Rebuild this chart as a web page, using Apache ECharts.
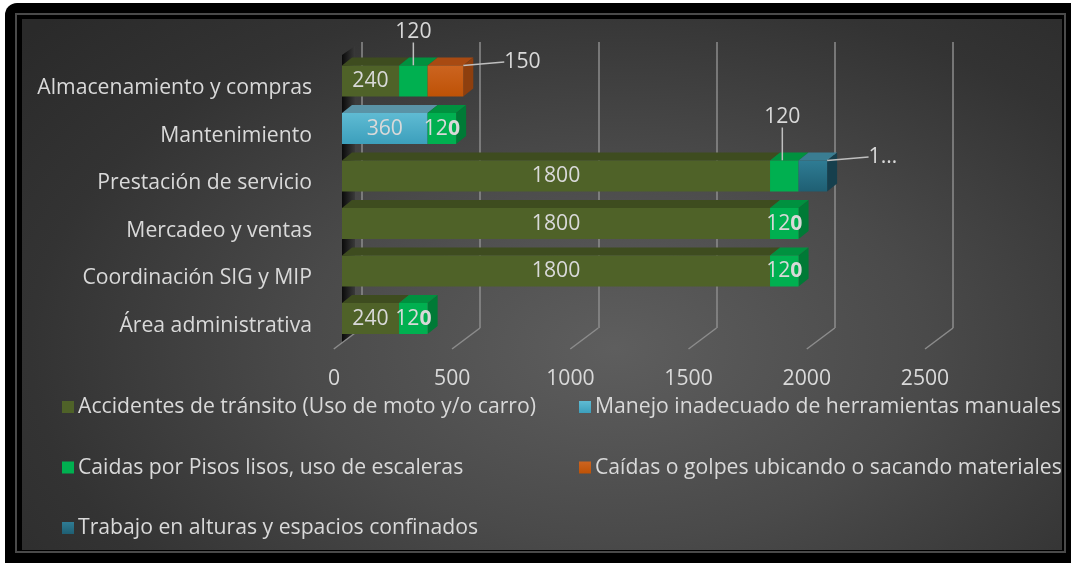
<!DOCTYPE html>
<html>
<head>
<meta charset="utf-8">
<script src="https://cdn.jsdelivr.net/npm/echarts@6/dist/echarts.min.js"></script>
<style>
html,body{margin:0;padding:0;background:#fff;width:1071px;height:563px;overflow:hidden;}
#outer{position:absolute;left:5px;top:3px;width:1066px;height:560px;background:#000;border-radius:12px 0 0 0;}
#line{position:absolute;left:15px;top:13px;width:1051px;height:540px;box-sizing:border-box;border:2px solid #4a4a4a;}
#bg{position:absolute;left:22px;top:19px;width:1040px;height:531px;
 background:radial-gradient(ellipse 75% 90% at 57% 62%, #5e5e5e 0%, #4a4a4a 40%, #333 75%, #2a2a2a 100%);}
#chart{position:absolute;left:0;top:0;width:1071px;height:563px;}
</style>
</head>
<body>
<div id="outer"></div><div id="line"></div><div id="bg"></div>
<div id="chart"></div>
<script>
const categories = ['Almacenamiento y compras','Mantenimiento','Prestación de servicio','Mercadeo y ventas','Coordinación SIG y MIP','Área administrativa'];
const seriesNames = ['Accidentes de tránsito (Uso de moto y/o carro)','Manejo inadecuado de herramientas manuales','Caidas por Pisos lisos, uso de escaleras','Caídas o golpes ubicando o sacando materiales','Trabajo en alturas y espacios confinados'];
const accidentes = [240, null, 1800, 1800, 1800, 240];
const manejo     = [null, 360, null, null, null, null];
const pisos      = [120, 120, 120, 120, 120, 120];
const golpes     = [150, null, null, null, null, null];
const alturas    = [null, null, 120, null, null, null];
const axisTicks = [0, 500, 1000, 1500, 2000, 2500];

const values = [accidentes, manejo, pisos, golpes, alturas];
const front = [
  '#4f6228',
  {type:'linear',x:0,y:0,x2:0,y2:1,colorStops:[{offset:0,color:'#5fbbd3'},{offset:1,color:'#3c9fbc'}]},
  '#00b050',
  {type:'linear',x:0,y:0,x2:0,y2:1,colorStops:[{offset:0,color:'#cc6420'},{offset:1,color:'#be5206'}]},
  {type:'linear',x:0,y:0,x2:0,y2:1,colorStops:[{offset:0,color:'#2f7c94'},{offset:1,color:'#1f5f73'}]}
];
const legendColors = ['#4f6228','#4bacc6','#00b050','#c55a11','#2a6f86'];
const topCol  = ['#3e4c1f','#5a93a6','#00913f','#a84a12','#3a7d92'];
const sideCol = ['#36421b','#2f7f97','#007a36','#8e3f0e','#163f4d'];
const TXT = '#d9d9d9';
const FONT = 'Open Sans';
const FS = 21.2;
const BARH = 31, DX = 10, DY = -8;

// moved (callout) labels: [seriesIndex, dataIndex] -> offset
const moved = {'2_0':{dx:0,dy:-49}, '3_0':{dx:77,dy:-19}, '2_2':{dx:-2,dy:-59}, '4_2':{dx:70,dy:-19}};

function lastIndex(i){ let l=-1; values.forEach((a,s)=>{ if(a[i]) l=s; }); return l; }

const barSeries = values.map((arr, s) => ({
  name: seriesNames[s], type:'bar', stack:'total', xAxisIndex:0, yAxisIndex:0,
  barWidth: BARH, z: 3, color: legendColors[s],
  itemStyle:{color: front[s]},
  data: arr.map(v => v == null ? '-' : v),
  label:{show:true, position:'inside', color:TXT, fontFamily:FONT, fontSize:FS,
    formatter: p => {
      const k = s+'_'+p.dataIndex;
      const str = String(p.value);
      if (s === 4) return str.charAt(0) + '…';
      if (!moved[k] && s === 2) return '{n|'+str.slice(0,-1)+'}{b|'+str.slice(-1)+'}';
      return str;
    },
    rich:{n:{color:TXT,fontFamily:FONT,fontSize:FS}, b:{color:TXT,fontFamily:FONT,fontSize:FS,fontWeight:'bold'}}
  },
  labelLine:{show:true, lineStyle:{color:'#bfbfbf', width:1.5}},
  labelLayout: p => { const m = moved[s+'_'+p.dataIndex]; return m ? {dx:m.dx, dy:m.dy} : {}; }
}));

const faces = {
  type:'custom', xAxisIndex:0, yAxisIndex:0, z:2, silent:true,
  data: categories.map((c,i)=>[0,i]),
  encode:{x:0,y:1},
  renderItem: (params, api) => {
    const i = api.value(1);
    const cy = api.coord([0, i])[1];
    const yT = cy - BARH/2, yB = cy + BARH/2;
    const ch = [];
    let cum = 0; const li = lastIndex(i);
    values.forEach((arr, s) => {
      const v = arr[i]; if (!v) return;
      const x0 = api.coord([cum, i])[0]; cum += v; const x1 = api.coord([cum, i])[0];
      ch.push({type:'polygon', shape:{points:[[x0,yT],[x1,yT],[x1+DX,yT+DY],[x0+DX,yT+DY]]}, style:{fill:topCol[s]}});
      if (s === li) ch.push({type:'polygon', shape:{points:[[x1,yT],[x1+DX,yT+DY],[x1+DX,yB+DY],[x1,yB]]}, style:{fill:sideCol[s]}});
    });
    return {type:'group', children:ch};
  }
};

const floorLines = {
  type:'custom', xAxisIndex:2, yAxisIndex:2, z:1, silent:true,
  data: axisTicks.map(t=>[t,0]), encode:{x:0,y:1},
  renderItem: (params, api) => {
    const p = api.coord([api.value(0), 0]);
    return {type:'line', shape:{x1:p[0],y1:p[1],x2:p[0]-28,y2:p[1]+21}, style:{stroke:'#8c8c8c', lineWidth:1.5}};
  }
};

const chart = echarts.init(document.getElementById('chart'), null, {renderer:'canvas'});
chart.setOption({
  backgroundColor:'transparent',
  animation:false,
  grid:[
    {left:342, right:134.5, top:57.25, bottom:220.75},
    {left:334, right:146, top:57, bottom:214},
    {left:361.75, right:118, top:42, bottom:235},
    {left:342, right:134.5, top:64.25, bottom:213.75}
  ],
  xAxis:[
    {gridIndex:0, type:'value', min:0, max:2500, interval:500, show:false, splitLine:{show:false}},
    {gridIndex:1, type:'value', min:0, max:2500, interval:500, axisLine:{show:false}, axisTick:{show:false}, splitLine:{show:false},
      axisLabel:{color:TXT, fontFamily:FONT, fontSize:FS, margin:19, formatter: v => String(v)}},
    {gridIndex:2, type:'value', min:0, max:2500, interval:500, axisLine:{show:false}, axisTick:{show:false}, axisLabel:{show:false},
      splitLine:{show:true, lineStyle:{color:'#8c8c8c', width:1.5}}},
    {gridIndex:3, type:'value', min:0, max:2500, show:false, splitLine:{show:false}}
  ],
  yAxis:[
    {gridIndex:0, type:'category', inverse:true, data:categories, show:false},
    {gridIndex:1, type:'value', show:false},
    {gridIndex:2, type:'value', show:false, min:0, max:1},
    {gridIndex:3, type:'category', inverse:true, data:categories, axisLine:{show:false}, axisTick:{show:false}, splitLine:{show:false},
      axisLabel:{color:TXT, fontFamily:FONT, fontSize:FS, margin:30}}
  ],
  graphic:[
    {type:'polygon', z:0, shape:{points:[[342,55],[355,46],[355,333],[342,343]]},
     style:{fill:{type:'linear',x:0,y:0,x2:1,y2:0,colorStops:[{offset:0,color:'#0a0a0a'},{offset:1,color:'#3a3a3a'}]}}}
  ],
  legend:[
    {left:62, top:396.5, padding:0, orient:'vertical', itemGap:39.5, itemWidth:12, itemHeight:12, icon:'rect',
      data:[seriesNames[0], seriesNames[2], seriesNames[4]],
      textStyle:{color:TXT, fontFamily:FONT, fontSize:FS, padding:[0,0,0,-1]}},
    {left:579, top:396.5, padding:0, orient:'vertical', itemGap:39.5, itemWidth:12, itemHeight:12, icon:'rect',
      data:[seriesNames[1], seriesNames[3]],
      textStyle:{color:TXT, fontFamily:FONT, fontSize:FS, padding:[0,0,0,-1]}}
  ],
  series: barSeries.concat([faces, floorLines])
});
</script>
</body>
</html>
